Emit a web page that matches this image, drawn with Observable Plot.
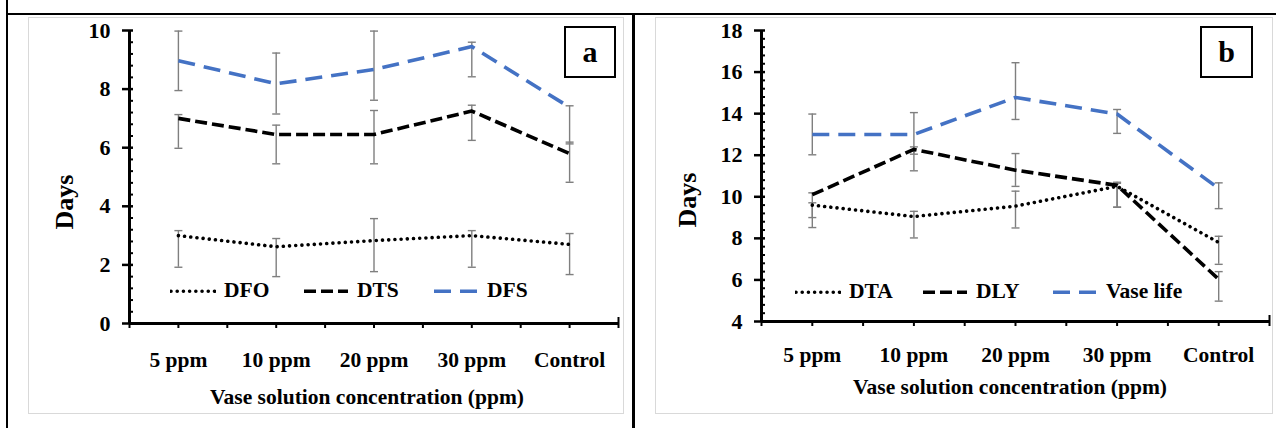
<!DOCTYPE html>
<html><head><meta charset="utf-8">
<script src="https://cdn.jsdelivr.net/npm/d3@7"></script>
<script src="https://cdn.jsdelivr.net/npm/@observablehq/plot@0.6"></script>
<style>
html,body{margin:0;padding:0;background:#fff;}
#page{position:relative;width:1276px;height:428px;overflow:hidden;background:#fff;font-family:"Liberation Serif","Times New Roman",serif;font-weight:bold;color:#000;}
.bk{position:absolute;background:#000;}
.box{position:absolute;border:1px solid #d9d9d9;box-sizing:border-box;pointer-events:none;}
.holder{position:absolute;}
.title{position:absolute;font-size:21.5px;white-space:nowrap;transform:translate(-50%,-50%);line-height:1;}
.ylab{position:absolute;font-size:26px;white-space:nowrap;transform:translate(-50%,-50%) rotate(-90deg);line-height:1;}
.tag{position:absolute;border:2px solid #000;box-sizing:border-box;display:flex;align-items:center;justify-content:center;font-size:30px;background:#fff;line-height:1;}
.leg{position:absolute;display:flex;align-items:center;font-size:21.5px;white-space:nowrap;transform:translateY(-50%);line-height:1;}
.leg svg{margin-right:8px;}
</style></head>
<body>
<div id="page"></div>
<script>
// ---------- data ----------
const categories = ["5 ppm", "10 ppm", "20 ppm", "30 ppm", "Control"];

// panel a
const dfo   = [3.0, 2.62, 2.83, 3.0, 2.7];
const dfoLo = [1.92, 1.6, 1.77, 1.92, 1.67];
const dfoHi = [3.17, 2.9, 3.58, 3.17, 3.07];
const dts   = [7.0, 6.45, 6.45, 7.25, 5.8];
const dtsLo = [5.98, 5.45, 5.45, 6.25, 4.82];
const dtsHi = [7.13, 6.77, 7.27, 7.45, 6.19];
const dfs   = [8.97, 8.18, 8.67, 9.45, 7.38];
const dfsLo = [7.95, 7.15, 7.62, 8.42, 6.13];
const dfsHi = [9.98, 9.23, 9.98, 9.6, 7.43];

// panel b
const dta   = [9.6, 9.05, 9.55, 10.5, 7.8];
const dtaLo = [8.52, 8.02, 8.5, 9.5, 6.75];
const dtaHi = [9.71, 9.3, 10.27, 10.65, 8.1];
const dly   = [10.1, 12.28, 11.28, 10.55, 6.03];
const dlyLo = [9.0, 11.25, 10.5, 9.5, 4.98];
const dlyHi = [10.19, 12.4, 12.08, 10.7, 6.4];
const vase   = [13.0, 13.0, 14.78, 13.98, 10.4];
const vaseLo = [12.02, 12.05, 13.72, 13.05, 9.43];
const vaseHi = [13.98, 14.05, 16.45, 14.2, 10.67];

const yTicksA = [0, 2, 4, 6, 8, 10];
const yTicksB = [4, 6, 8, 10, 12, 14, 16, 18];

// ---------- styles ----------
const dotted = {stroke: "#000", strokeWidth: 3.6, strokeDasharray: "0.01,6.2", strokeLinecap: "round"};
const dashed = {stroke: "#000", strokeWidth: 3.6, strokeDasharray: "12,5", strokeLinecap: "butt"};
const blue   = {stroke: "#4472C4", strokeWidth: 3.6, strokeDasharray: "17,9", strokeLinecap: "butt"};

const errColor = "#7f7f7f";
const capSymbol = {draw(ctx, size) { const w = Math.sqrt(size / Math.PI); ctx.moveTo(-w, 0); ctx.lineTo(w, 0); }};

function makePanel({series, yDomain, yTicks, width, height, margins, labelPad}) {
  const xDomain = [-0.5, categories.length - 0.5];
  const halfTicks = d3.range(xDomain[0], xDomain[1] + 0.01, 0.5);
  const catTicks = d3.range(categories.length);
  const minor = d3.range(yDomain[0], yDomain[1] + 0.001, 0.4).filter(v => !yTicks.some(t => Math.abs(t - v) < 1e-6));
  const marks = [];
  for (const s of series) {
    const rows = s.values.map((v, i) => ({i, v, lo: s.lo[i], hi: s.hi[i]}));
    marks.push(Plot.ruleX(rows, {x: "i", y1: "lo", y2: "hi", stroke: errColor, strokeWidth: 1.4}));
    marks.push(Plot.dot(rows, {x: "i", y: "lo", symbol: capSymbol, r: 4, fill: "none", stroke: errColor, strokeWidth: 1.4}));
    marks.push(Plot.dot(rows, {x: "i", y: "hi", symbol: capSymbol, r: 4, fill: "none", stroke: errColor, strokeWidth: 1.4}));
  }
  for (const s of series) {
    const rows = s.values.map((v, i) => ({i, v}));
    marks.push(Plot.line(rows, {x: "i", y: "v", ...s.style}));
  }
  // axes
  marks.push(Plot.axisY({ticks: yTicks, tickSize: 7, tickPadding: 12, tickFormat: d => String(d), strokeWidth: 2.5, fontSize: 22, label: null}));
  marks.push(Plot.axisY({ticks: yTicks, tickSize: -4, fill: "none", strokeWidth: 2.5, label: null}));
  marks.push(Plot.axisY({ticks: minor, tickSize: -4, fill: "none", strokeWidth: 2, label: null}));
  marks.push(Plot.axisX({ticks: halfTicks, tickSize: 5, fill: "none", strokeWidth: 2, label: null}));
  marks.push(Plot.axisX({ticks: [xDomain[1]], tickSize: -6, fill: "none", strokeWidth: 2, label: null}));
  marks.push(Plot.axisX({ticks: catTicks, tickSize: 0, tickPadding: labelPad, tickFormat: i => categories[i], fontSize: 21.5, label: null}));
  marks.push(Plot.ruleX([xDomain[0]], {stroke: "#000", strokeWidth: 3}));
  marks.push(Plot.ruleY([yDomain[0]], {stroke: "#000", strokeWidth: 3}));
  return Plot.plot({
    width, height,
    marginLeft: margins[0], marginRight: margins[1], marginTop: margins[2], marginBottom: margins[3],
    x: {type: "linear", domain: xDomain, label: null},
    y: {type: "linear", domain: yDomain, label: null},
    style: {fontFamily: '"Liberation Serif","Times New Roman",serif', fontSize: "21.5px", fontWeight: "bold", background: "transparent", overflow: "visible", color: "#000"},
    marks
  });
}

const page = document.getElementById("page");
function add(html) { page.insertAdjacentHTML("beforeend", html); }

// table borders
add('<div class="bk" style="left:6px;top:0;width:2px;height:428px"></div>');
add('<div class="bk" style="left:6px;top:13px;width:1270px;height:2px"></div>');
add('<div class="bk" style="left:632px;top:13px;width:3px;height:415px"></div>');

function placePanel(svg, left, top, w, h) {
  const holder = document.createElement("div");
  holder.className = "holder";
  holder.style.left = left + "px"; holder.style.top = top + "px";
  holder.style.width = w + "px"; holder.style.height = h + "px";
  holder.appendChild(svg);
  page.appendChild(holder);
  add(`<div class="box" style="left:${left}px;top:${top}px;width:${w}px;height:${h}px"></div>`);
}

function swatch(style) {
  return `<svg width="46" height="10"><line x1="1" y1="5" x2="45" y2="5" stroke="${style.stroke}" stroke-width="${style.strokeWidth}" stroke-dasharray="${style.strokeDasharray}" stroke-linecap="${style.strokeLinecap}"/></svg>`;
}

// panel a
const svgA = makePanel({
  series: [
    {values: dfo, lo: dfoLo, hi: dfoHi, style: dotted},
    {values: dts, lo: dtsLo, hi: dtsHi, style: dashed},
    {values: dfs, lo: dfsLo, hi: dfsHi, style: blue}
  ],
  yDomain: [0, 10], yTicks: yTicksA, width: 596, height: 397, margins: [101, 6, 13, 91], labelPad: 28
});
placePanel(svgA, 28, 17, 596, 397);

// panel b
const svgB = makePanel({
  series: [
    {values: dta, lo: dtaLo, hi: dtaHi, style: dotted},
    {values: dly, lo: dlyLo, hi: dlyHi, style: dashed},
    {values: vase, lo: vaseLo, hi: vaseHi, style: blue}
  ],
  yDomain: [4, 18], yTicks: yTicksB, width: 618, height: 397, margins: [106, 4, 13, 93], labelPad: 25
});
placePanel(svgB, 655, 17, 618, 397);

// titles
add('<div class="title" style="left:367px;top:398px">Vase solution concentration (ppm)</div>');
add('<div class="title" style="left:1010px;top:388px">Vase solution concentration (ppm)</div>');
add('<div class="ylab" style="left:65px;top:202px">Days</div>');
add('<div class="ylab" style="left:688px;top:200px">Days</div>');

// tags
add('<div class="tag" style="left:564px;top:26px;width:52px;height:52px">a</div>');
add('<div class="tag" style="left:1200px;top:26px;width:53px;height:52px">b</div>');

// legends
add(`<div class="leg" style="left:170px;top:291px">${swatch(dotted)}DFO</div>`);
add(`<div class="leg" style="left:303px;top:291px">${swatch(dashed)}DTS</div>`);
add(`<div class="leg" style="left:433px;top:291px">${swatch(blue)}DFS</div>`);
add(`<div class="leg" style="left:795px;top:292px">${swatch(dotted)}DTA</div>`);
add(`<div class="leg" style="left:922px;top:292px">${swatch(dashed)}DLY</div>`);
add(`<div class="leg" style="left:1052px;top:292px">${swatch(blue)}Vase life</div>`);
</script>
</body></html>
